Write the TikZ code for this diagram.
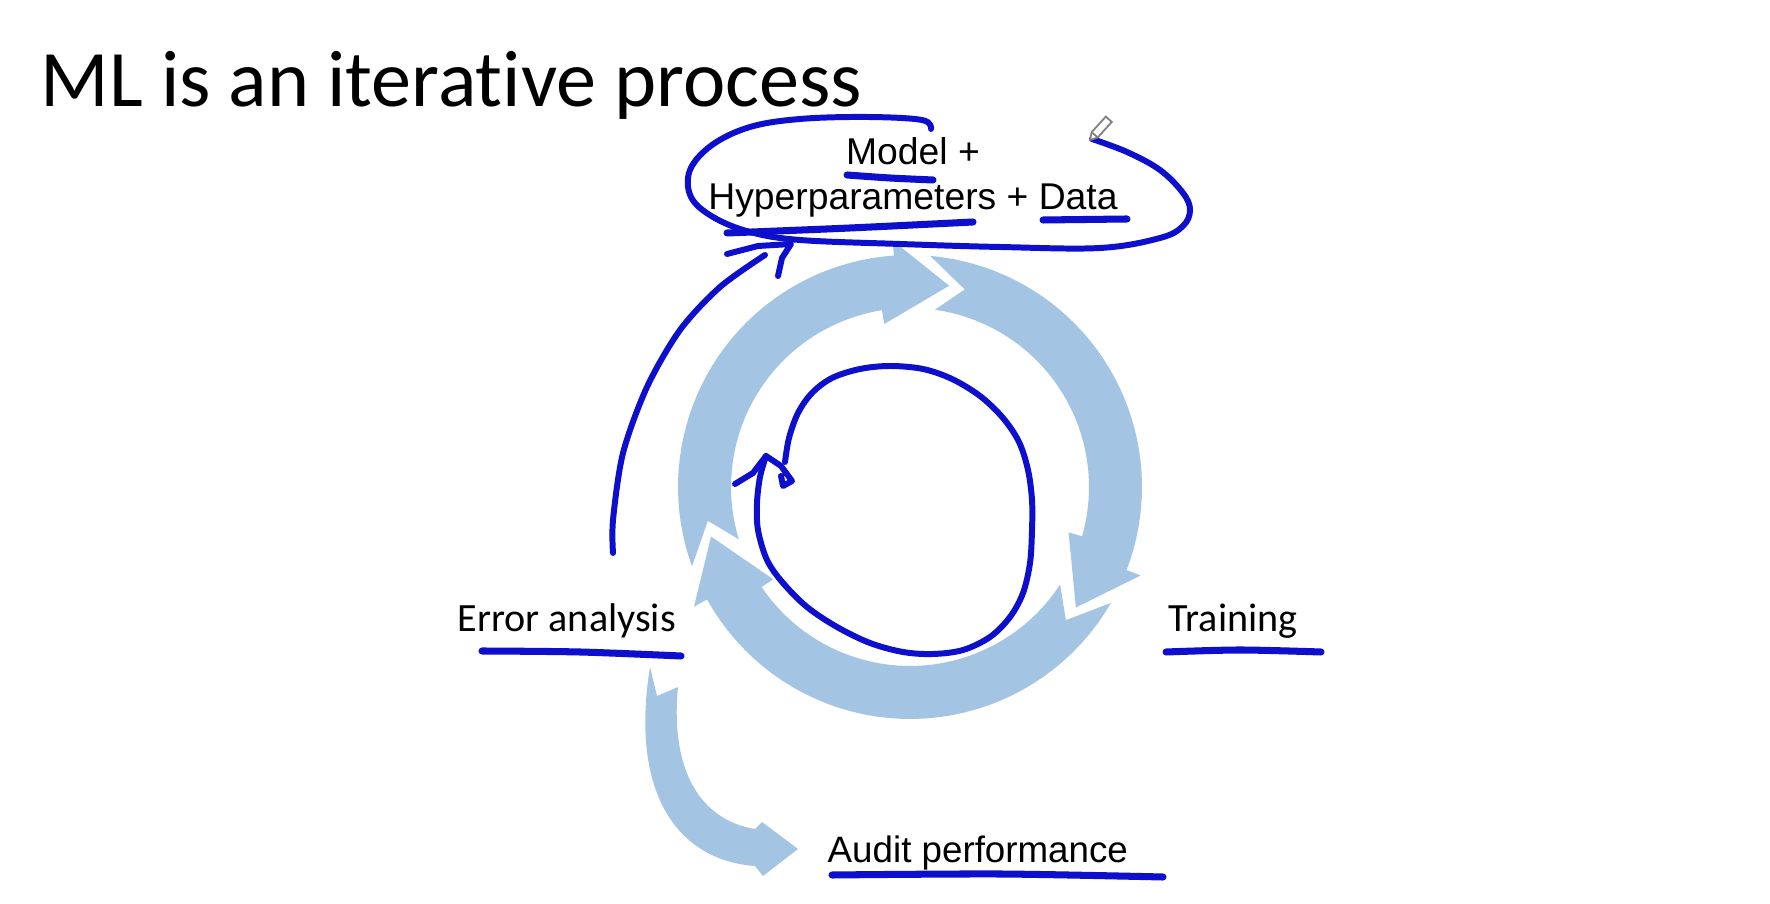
\documentclass[tikz,border=0pt]{standalone}
\usepackage{fontspec}
\setmainfont{Carlito}[Ligatures=NoCommon]
\newfontfamily\arialfont{Liberation Sans}
\definecolor{cycleblue}{RGB}{164,196,228}
\definecolor{inkblue}{RGB}{14,14,205}

% one arc of the cycle: #1 = tail angle, #2 = tip angle (clockwise)
\newcommand{\cyclearrow}[2]{%
  \fill[cycleblue] ({910+232*cos(#1)},{487-232*sin(#1)})
    -- plot[domain=#1:#2+15, samples=40] ({910+232*cos(\x)},{487-232*sin(\x)})
    -- ({910+247*cos(#2+15)},{487-247*sin(#2+15)})
    -- ({910+205*cos(#2)},{487-205*sin(#2)})
    -- ({910+165*cos(#2+20)},{487-165*sin(#2+20)})
    -- plot[domain=#2+20:#1-3, samples=40] ({910+179*cos(\x)},{487-179*sin(\x)})
    -- ({910+205*cos(#1-10.5)},{487-205*sin(#1-10.5)})
    -- cycle;}

\begin{document}
\begin{tikzpicture}[x=0.01cm, y=-0.01cm,
    titletext/.style={inner sep=0, font=\fontsize{22.8}{27}\selectfont},
    boxtext/.style={inner sep=0, align=center, font=\arialfont\fontsize{10.6}{12.8}\selectfont},
    steptext/.style={inner sep=0, font=\fontsize{11.4}{13}\selectfont},
    audittext/.style={inner sep=0, font=\arialfont\fontsize{10.45}{12.5}\selectfont},
    ink/.style={draw=inkblue, line width=1.7pt, line cap=round, line join=round},
    underline/.style={ink, line width=2pt}]

    \useasboundingbox[fill=white] (0,0) rectangle (1770,904);

    % the cycle
    \cyclearrow{200}{79}
    \cyclearrow{85}{-36}
    \cyclearrow{-30}{-166}

    % side arrow down to the audit
    \fill[cycleblue] (650,667) .. controls (630,790) and (675,860) .. (755,866)
        -- (763,876) -- (798,849) -- (762,822) -- (755,829)
        .. controls (700,820) and (670,770) .. (678,687) -- (657,696) -- cycle;

    \node[titletext, anchor=base west] (title) at (40,107) {ML is an iterative process};
    \node[boxtext, anchor=base] (model) at (913,210) {Model +\\Hyperparameters + Data};
    \node[steptext, anchor=base west] (error) at (457,632) {Error analysis};
    \node[steptext, anchor=base west] (training) at (1168,632) {Training};
    \node[audittext, anchor=base west] (audit) at (827,863) {Audit performance};

    % handwriting
    \draw[underline] plot[smooth] coordinates {(847,175) (890,178) (933,180)};
    \draw[underline] plot[smooth] coordinates {(727,233) (850,228) (973,222)};
    \draw[underline] (1043,220) -- (1127,219);
    \draw[underline] plot[smooth] coordinates {(482,651) (580,652) (681,656)};
    \draw[underline] plot[smooth] coordinates {(1166,652) (1240,650) (1321,652)};
    \draw[underline] plot[smooth] coordinates {(832,875) (1000,874) (1163,877)};

    \draw[ink] plot[smooth, tension=0.6] coordinates {(931,129) (922,120) (867,117)
        (800,119) (750,127) (712,145) (690,170) (691,197) (713,217) (750,232)
        (800,240) (900,244) (1000,247) (1100,248) (1160,238) (1183,226)
        (1190,210) (1183,193) (1160,170) (1127,152) (1092,139)};

    \coordinate (inkfoot) at (613,553);
    \coordinate (inktip) at (791,244);
    \draw[ink] plot[smooth] coordinates {(inkfoot) (613,520) (623,453) (647,387)
        (680,330) (720,287) (765,255)};
    \draw[ink] (727,254) -- (758,246) -- (inktip) -- (782,258) -- (778,276);

    \coordinate (looptip) at (766,456);
    \draw[ink] plot[smooth, tension=0.55] coordinates {(785,462) (789,438)
        (798,413) (812,393) (832,378) (860,369) (890,366) (923,369) (952,379)
        (980,396) (1003,418) (1019,442) (1028,470) (1032,500) (1032,530)
        (1030,563) (1023,593) (1010,617) (990,637) (963,650) (933,654)
        (903,652) (870,643) (837,627) (807,607) (783,583) (767,560) (758,530)
        (757,503) (760,477) (looptip)};
    \draw[ink] (735,484) -- (753,473) -- (looptip) -- (781,466) -- (792,481)
        -- (783,486) -- (781,476);

    % pen cursor
    \draw[gray, line width=0.5pt, fill=white] (1090,140) -- (1097.7,137.5)
        -- (1111.8,122) -- (1105.8,116.6) -- (1091.7,132.1) -- cycle;
    \draw[gray, line width=0.5pt] (1097.7,137.5) -- (1091.7,132.1);
\end{tikzpicture}
\end{document}
